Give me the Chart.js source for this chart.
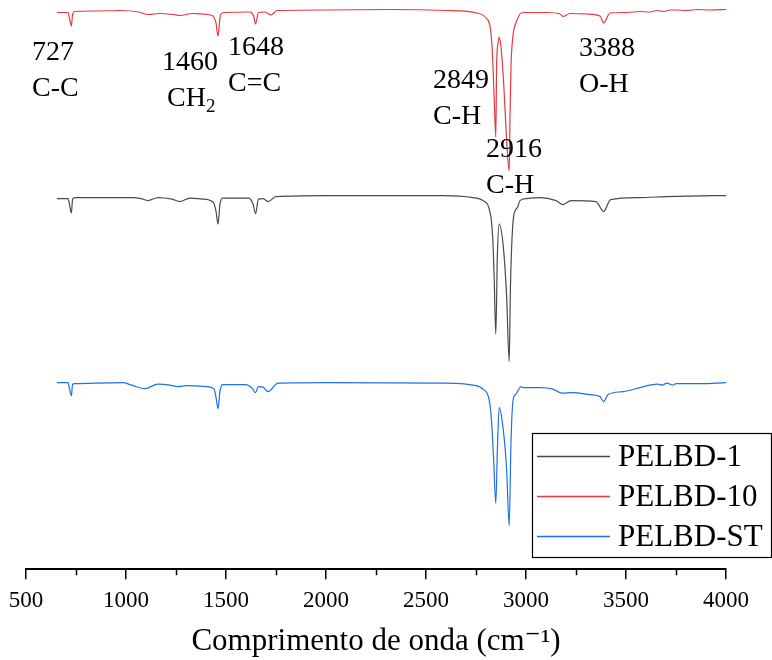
<!DOCTYPE html>
<html>
<head>
<meta charset="utf-8">
<script src="https://cdn.jsdelivr.net/npm/chart.js@4.4.1/dist/chart.umd.min.js"></script>
<style>
  body { margin: 0; background: #fff; }
  canvas { display: block; }
</style>
</head>
<body>
<canvas id="ftir" width="772" height="660"></canvas>
<script>
// FTIR spectra, offset vertically (arbitrary units)
const wn10 = [655, 710, 718, 727, 733, 745, 855, 970, 1065, 1110, 1170, 1235, 1270, 1330, 1385, 1435, 1450, 1460, 1472, 1490,
  1620, 1638, 1648, 1662, 1695, 1725, 1755, 2005, 2320, 2605, 2755, 2805, 2820, 2831, 2841, 2849, 2853, 2861, 2866, 2876,
  2890, 2901, 2916, 2920, 2925, 2933, 2940, 2953, 2970, 2985, 3105, 3170, 3185, 3220, 3305, 3370, 3388, 3420, 3505, 3570,
  3620, 3655, 3690, 3720, 3755, 3800, 3855, 3920, 4000];
const t10 = [111.3, 111.3, 110.0, 108.6, 111.0, 111.5, 111.6, 111.7, 111.4, 110.9, 111.1, 110.9, 110.7, 111.1, 111.0, 110.6, 109.2, 106.6, 110.8, 111.3,
  111.4, 110.6, 109.0, 111.3, 111.4, 110.8, 111.7, 111.8, 111.9, 111.7, 111.2, 110.0, 108.6, 104.0, 94.0, 86.4, 100.6, 105.4, 106.4, 104.0,
  96.0, 87.4, 79.6, 90.6, 100.6, 106.0, 108.0, 109.6, 111.0, 111.3, 111.3, 111.0, 110.5, 111.1, 111.0, 110.6, 109.2, 111.2, 111.3, 111.5,
  111.4, 111.7, 111.5, 111.8, 111.8, 111.7, 111.9, 111.8, 111.9];

const wn1 = [655, 710, 718, 727, 733, 745, 900, 1035, 1075, 1110, 1160, 1230, 1270, 1320, 1380, 1435, 1450, 1460, 1470, 1483,
  1615, 1635, 1648, 1662, 1685, 1710, 1750, 2000, 2585, 2735, 2785, 2820, 2833, 2841, 2849, 2857, 2866, 2886, 2903, 2916,
  2922, 2930, 2940, 2957, 2970, 3003, 3070, 3150, 3185, 3225, 3350, 3388, 3423, 3570, 3700, 3815, 4000];
const t1 = [74.1, 74.1, 72.8, 71.2, 74.0, 74.3, 74.3, 74.3, 74.1, 73.7, 74.3, 74.0, 73.5, 74.2, 74.0, 73.4, 71.6, 69.0, 73.0, 74.2,
  74.2, 73.0, 71.1, 74.0, 74.1, 73.5, 74.5, 74.7, 74.7, 74.3, 73.7, 71.4, 66.7, 58.0, 47.0, 63.0, 69.0, 64.7, 54.7, 41.5,
  56.0, 66.0, 71.0, 72.3, 73.7, 74.1, 74.3, 73.7, 72.9, 73.7, 73.5, 71.5, 73.9, 74.3, 74.5, 74.6, 74.7];

const wnST = [655, 710, 718, 727, 733, 745, 985, 1035, 1095, 1160, 1220, 1260, 1305, 1405, 1440, 1450, 1460, 1470, 1483, 1600,
  1630, 1648, 1662, 1685, 1710, 1760, 2000, 2585, 2735, 2785, 2815, 2827, 2838, 2849, 2857, 2866, 2886, 2903, 2916, 2925,
  2935, 2950, 2960, 2975, 2985, 3070, 3135, 3180, 3235, 3320, 3370, 3388, 3410, 3485, 3570, 3620, 3660, 3680, 3705, 3720,
  3735, 3750, 3770, 3870, 4000];
const tST = [37.3, 37.3, 36.0, 34.7, 37.0, 37.1, 37.3, 36.7, 36.1, 37.0, 36.8, 36.5, 36.7, 36.5, 36.0, 34.4, 32.1, 35.6, 36.9, 36.9,
  36.2, 35.3, 36.5, 36.4, 35.5, 37.2, 37.3, 37.2, 36.8, 36.0, 34.0, 30.0, 22.0, 13.2, 24.0, 32.3, 28.0, 20.0, 8.7, 25.4,
  33.7, 35.0, 35.7, 36.5, 36.3, 36.3, 36.0, 35.2, 35.3, 34.9, 34.5, 33.5, 34.9, 35.5, 36.3, 36.8, 37.0, 36.8, 37.2, 37.0,
  36.8, 37.1, 37.1, 37.1, 37.3];

// peak annotations: wavenumber text, bond text, anchor in data units
const peakText = ['727', '1460', '1648', '2849', '2916', '3388'];
const bondText = ['C-C', 'CH', 'C=C', 'C-H', 'C-H', 'O-H'];
const bondSub = ['', '2', '', '', '', ''];
const peakWn = [530, 1180, 1510, 2535, 2800, 3265];
const bondWn = [530, 1205, 1510, 2535, 2800, 3265];
const peakY = [101.8, 99.8, 102.8, 96.2, 82.4, 102.6];

const xTicksMinor = [750, 1250, 1750, 2250, 2750, 3250, 3750];

const SERIF = "'Liberation Serif', 'DejaVu Serif', serif";

function zip(xs, ys) {
  return xs.map((x, i) => ({ x: x, y: ys[i] }));
}

// annotations, minor ticks, boxed legend
const extrasPlugin = {
  id: 'extras',
  afterDraw(chart) {
    const ctx = chart.ctx;
    const xs = chart.scales.x;
    const ys = chart.scales.y;
    ctx.save();

    // minor ticks
    ctx.strokeStyle = '#000';
    ctx.lineWidth = 1.5;
    const yb = chart.chartArea.bottom;
    xTicksMinor.forEach(v => {
      const px = Math.round(xs.getPixelForValue(v)) + 0.5;
      ctx.beginPath();
      ctx.moveTo(px, yb);
      ctx.lineTo(px, yb + 6);
      ctx.stroke();
    });

    // peak labels
    ctx.fillStyle = '#000';
    ctx.textBaseline = 'alphabetic';
    ctx.textAlign = 'left';
    peakText.forEach((t, i) => {
      ctx.font = '28px ' + SERIF;
      const py = ys.getPixelForValue(peakY[i]);
      ctx.fillText(t, xs.getPixelForValue(peakWn[i]), py);
      const bx = xs.getPixelForValue(bondWn[i]);
      const by = py + 36;
      ctx.fillText(bondText[i], bx, by);
      if (bondSub[i]) {
        const w = ctx.measureText(bondText[i]).width;
        ctx.font = '19px ' + SERIF;
        ctx.fillText(bondSub[i], bx + w, by + 6);
      }
    });

    // legend box
    const box = { l: 532.5, t: 433.5, r: 771.5, b: 557.5 };
    ctx.strokeStyle = '#000';
    ctx.lineWidth = 1.2;
    ctx.strokeRect(box.l, box.t, box.r - box.l, box.b - box.t);
    ctx.font = '31px ' + SERIF;
    ctx.textBaseline = 'middle';
    const order = [1, 0, 2];
    order.forEach((di, row) => {
      const ds = chart.data.datasets[di];
      const y = 456 + row * 40;
      ctx.strokeStyle = ds.borderColor;
      ctx.lineWidth = 1.5;
      ctx.beginPath();
      ctx.moveTo(537, y + 0.5);
      ctx.lineTo(610, y + 0.5);
      ctx.stroke();
      ctx.fillStyle = '#000';
      ctx.fillText(ds.label, 618, y + 2);
    });

    ctx.restore();
  }
};

const ctx = document.getElementById('ftir').getContext('2d');
new Chart(ctx, {
  type: 'line',
  data: {
    datasets: [
      { label: 'PELBD-10', data: zip(wn10, t10), borderColor: '#e8383d' },
      { label: 'PELBD-1', data: zip(wn1, t1), borderColor: '#4a4a4a' },
      { label: 'PELBD-ST', data: zip(wnST, tST), borderColor: '#1f6fe6' }
    ].map(d => Object.assign(d, {
      borderWidth: 1.2,
      pointRadius: 0,
      fill: false,
      cubicInterpolationMode: 'monotone'
    }))
  },
  options: {
    responsive: false,
    devicePixelRatio: 1,
    animation: false,
    layout: { padding: { left: 26, right: 46, top: 0, bottom: 0 } },
    plugins: {
      legend: { display: false },
      tooltip: { enabled: false }
    },
    scales: {
      x: {
        type: 'linear',
        min: 500,
        max: 4000,
        border: { display: true, color: '#000', width: 2 },
        grid: { display: true, drawOnChartArea: false, drawTicks: true, tickLength: 10, color: '#000', lineWidth: 1.5 },
        ticks: {
          stepSize: 500,
          color: '#000',
          padding: 8,
          maxRotation: 0,
          font: { family: SERIF, size: 23 },
          callback: v => String(v)
        },
        title: {
          display: true,
          text: 'Comprimento de onda (cm\u207B\u00B9)',
          color: '#000',
          font: { family: SERIF, size: 31 },
          padding: { top: 0, bottom: 0 }
        }
      },
      y: {
        display: false,
        min: 0,
        max: 113.8
      }
    }
  },
  plugins: [extrasPlugin]
});
</script>
</body>
</html>
